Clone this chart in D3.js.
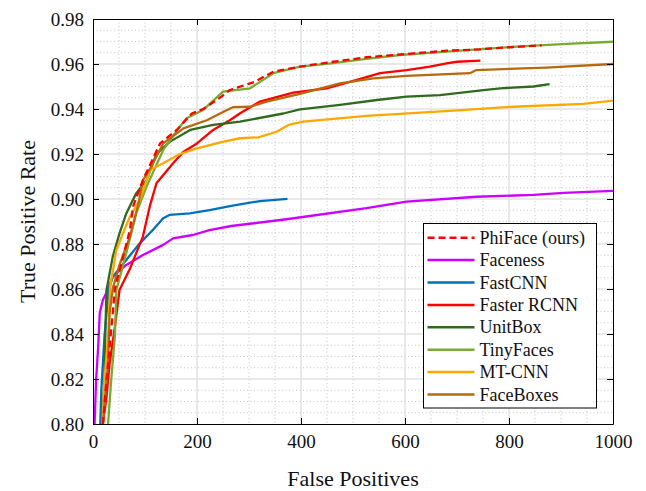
<!DOCTYPE html>
<html>
  <head>
    <meta charset="UTF-8">
    <title>ROC: True Positive Rate vs False Positives</title>
    <style>
      body { margin: 0; background: #fff; }
      svg text { font-family: "Liberation Serif", "Times New Roman", Times, "Nimbus Roman", "DejaVu Serif", serif; fill: #111; }
    </style>
  </head>
  <body>
    <svg></svg>

    <script src="https://d3js.org/d3.v7.min.js"></script>
    <script>

/* DATA */

var methods = ["PhiFace (ours)", "Faceness", "FastCNN", "Faster RCNN", "UnitBox", "TinyFaces", "MT-CNN", "FaceBoxes"];
var colors  = ["#ff0000", "#cc00ff", "#0072bd", "#ff0000", "#2f6a1f", "#77ac30", "#fda800", "#b8690b"];

var phifaceFP  = [19, 26, 32, 38, 42, 58, 71, 77, 96, 129, 161, 190, 212, 247, 263, 310, 347, 398, 462, 526, 616, 680, 744, 776, 821, 863];
var phifaceTPR = [0.800, 0.8196, 0.8344, 0.8493, 0.860, 0.8744, 0.8862, 0.8966, 0.9084, 0.9247, 0.9307, 0.938, 0.940, 0.9455, 0.9484, 0.952, 0.9566, 0.9588, 0.961, 0.963, 0.9647, 0.9659, 0.9665, 0.9671, 0.9677, 0.9683];

var facenessFP  = [3, 6, 10, 13, 19, 26, 38, 64, 96, 135, 154, 192, 224, 266, 372, 526, 603, 738, 847, 905, 1000];
var facenessTPR = [0.800, 0.8196, 0.8344, 0.8493, 0.8551, 0.8585, 0.8655, 0.8707, 0.8751, 0.8796, 0.8825, 0.884, 0.8862, 0.888, 0.891, 0.8959, 0.8988, 0.901, 0.9018, 0.9027, 0.9036];

var fastcnnFP  = [14, 16, 19, 22, 26, 30, 38, 64, 90, 115, 135, 147, 186, 224, 266, 321, 374];
var fastcnnTPR = [0.800, 0.8151, 0.827, 0.8388, 0.8492, 0.8595, 0.8655, 0.8729, 0.8803, 0.8862, 0.8914, 0.8929, 0.8936, 0.8951, 0.8969, 0.8991, 0.9001];

var fasterFP  = [19, 26, 32, 42, 51, 71, 96, 109, 122, 154, 174, 200, 231, 263, 283, 321, 385, 449, 494, 539, 552, 603, 648, 680, 700, 745];
var fasterTPR = [0.800, 0.8121, 0.827, 0.843, 0.8596, 0.869, 0.8833, 0.8966, 0.907, 0.9159, 0.921, 0.9247, 0.9307, 0.935, 0.9381, 0.9433, 0.9473, 0.9492, 0.9521, 0.9551, 0.9559, 0.9573, 0.9588, 0.9603, 0.961, 0.9615];

var unitboxFP  = [17, 22, 24, 26, 38, 51, 64, 83, 103, 122, 148, 187, 231, 283, 366, 398, 475, 546, 603, 667, 751, 783, 847, 878];
var unitboxTPR = [0.800, 0.8196, 0.843, 0.8596, 0.8744, 0.8847, 0.8936, 0.9025, 0.9084, 0.920, 0.9255, 0.9307, 0.9329, 0.9344, 0.938, 0.9398, 0.9418, 0.944, 0.9455, 0.9462, 0.9484, 0.9492, 0.950, 0.9511];

var tinyFP  = [29, 35, 42, 45, 64, 83, 103, 135, 167, 180, 212, 250, 302, 347, 398, 462, 526, 590, 719, 815, 911, 1000];
var tinyTPR = [0.800, 0.8196, 0.8388, 0.8596, 0.8759, 0.8936, 0.9055, 0.9218, 0.9321, 0.9359, 0.9396, 0.9477, 0.9492, 0.9559, 0.9588, 0.9604, 0.9623, 0.964, 0.9662, 0.9677, 0.9689, 0.9699];

var mtcnnFP  = [18, 22, 29, 33, 45, 58, 71, 90, 110, 135, 167, 200, 251, 283, 318, 353, 376, 404, 526, 693, 808, 943, 1000];
var mtcnnTPR = [0.800, 0.8196, 0.8388, 0.861, 0.8773, 0.885, 0.8921, 0.8996, 0.913, 0.9159, 0.920, 0.9225, 0.9255, 0.927, 0.9274, 0.9299, 0.9329, 0.9344, 0.9369, 0.9393, 0.941, 0.9423, 0.9437];

var faceboxesFP  = [19, 29, 32, 38, 51, 71, 87, 96, 110, 135, 174, 219, 251, 269, 302, 334, 398, 475, 539, 603, 725, 737, 872, 1000];
var faceboxesTPR = [0.800, 0.827, 0.8493, 0.8603, 0.8707, 0.8833, 0.8975, 0.9084, 0.9135, 0.9247, 0.9314, 0.935, 0.9388, 0.9408, 0.941, 0.9433, 0.9467, 0.9514, 0.9536, 0.9547, 0.9559, 0.9573, 0.9584, 0.960];

var xTicks = [0, 200, 400, 600, 800, 1000];
var yTicks = [0.80, 0.82, 0.84, 0.86, 0.88, 0.90, 0.92, 0.94, 0.96, 0.98];

var FONT = "'Liberation Serif', 'Times New Roman', Times, 'Nimbus Roman', 'DejaVu Serif', serif";

var config = {
  "width": 646,
  "height": 491,
  "margin": { "top": 19, "right": 33, "bottom": 67, "left": 93 }
};

/* BUILD */

var fps  = [phifaceFP, facenessFP, fastcnnFP, fasterFP, unitboxFP, tinyFP, mtcnnFP, faceboxesFP];
var tprs = [phifaceTPR, facenessTPR, fastcnnTPR, fasterTPR, unitboxTPR, tinyTPR, mtcnnTPR, faceboxesTPR];

var series = methods.map(function(name, i){
  return {
    "name": name,
    "color": colors[i],
    "dashed": i == 0,
    "points": fps[i].map(function(v, j){ return [v, tprs[i][j]]; })
  };
});

var svg = d3.select("svg")
  .attr("width", config.width)
  .attr("height", config.height)
  .attr("font-family", FONT);

var margin = config.margin,
  width = config.width - margin.left - margin.right,
  height = config.height - margin.top - margin.bottom;

var g = svg.append("g")
  .attr("transform", `translate(${margin.left},${margin.top})`);

var x = d3.scaleLinear().domain([0, 1000]).range([0, width]);
var y = d3.scaleLinear().domain([0.80, 0.98]).range([height, 0]);

// minor dotted grid
var minorX = d3.range(50, 1000, 50).filter(function(v){ return v % 200 != 0; });
var minorY = d3.range(0, 37).map(function(i){ return 0.80 + i*0.005; })
  .filter(function(v, i){ return i % 4 != 0; });

g.append("g").selectAll("line")
  .data(minorX)
  .enter().append("line")
    .attr("x1", function(d){ return x(d); })
    .attr("x2", function(d){ return x(d); })
    .attr("y1", 0).attr("y2", height)
    .attr("stroke", "#b8b8b8")
    .attr("stroke-width", 0.8)
    .attr("stroke-dasharray", "1,2.5");

g.append("g").selectAll("line")
  .data(minorY)
  .enter().append("line")
    .attr("y1", function(d){ return y(d); })
    .attr("y2", function(d){ return y(d); })
    .attr("x1", 0).attr("x2", width)
    .attr("stroke", "#b8b8b8")
    .attr("stroke-width", 0.8)
    .attr("stroke-dasharray", "1,2.5");

// major grid
g.append("g").selectAll("line")
  .data(xTicks.slice(1, -1))
  .enter().append("line")
    .attr("x1", function(d){ return x(d); })
    .attr("x2", function(d){ return x(d); })
    .attr("y1", 0).attr("y2", height)
    .attr("stroke", "#e2e2e2")
    .attr("stroke-width", 1.5);

g.append("g").selectAll("line")
  .data(yTicks.slice(1, -1))
  .enter().append("line")
    .attr("y1", function(d){ return y(d); })
    .attr("y2", function(d){ return y(d); })
    .attr("x1", 0).attr("x2", width)
    .attr("stroke", "#e2e2e2")
    .attr("stroke-width", 1.5);

// curves
svg.append("defs").append("clipPath")
  .attr("id", "plot")
  .append("rect")
    .attr("width", width)
    .attr("height", height);

var line = d3.line()
  .x(function(d){ return x(d[0]); })
  .y(function(d){ return y(d[1]); });

// draw PhiFace last so it sits on top
var drawOrder = series.slice(1).concat(series[0]);

g.append("g")
  .attr("clip-path", "url(#plot)")
  .selectAll("path")
  .data(drawOrder)
  .enter().append("path")
    .attr("d", function(d){ return line(d.points); })
    .attr("fill", "none")
    .attr("stroke", function(d){ return d.color; })
    .attr("stroke-width", 2.3)
    .attr("stroke-linejoin", "round")
    .attr("stroke-dasharray", function(d){ return d.dashed ? "7,4" : null; });

// axes (ticks pointing inward on all sides)
function styleAxis(sel){
  sel.attr("font-family", FONT).attr("font-size", 19);
  sel.selectAll("path").attr("stroke", "#000").attr("stroke-width", 1);
  sel.selectAll("line").attr("stroke", "#000").attr("stroke-width", 1);
  sel.selectAll("text").attr("fill", "#111");
}

g.append("g")
  .attr("transform", `translate(0,${height})`)
  .call(d3.axisBottom(x).tickValues(xTicks).tickFormat(d3.format("d")).tickSize(-6).tickSizeOuter(0).tickPadding(11))
  .call(styleAxis);

g.append("g")
  .call(d3.axisLeft(y).tickValues(yTicks).tickFormat(d3.format(".2f")).tickSize(-6).tickSizeOuter(0).tickPadding(9))
  .call(styleAxis);

g.append("g")
  .call(d3.axisTop(x).tickValues(xTicks).tickFormat("").tickSize(-6).tickSizeOuter(0))
  .call(styleAxis);

g.append("g")
  .attr("transform", `translate(${width},0)`)
  .call(d3.axisRight(y).tickValues(yTicks).tickFormat("").tickSize(-6).tickSizeOuter(0))
  .call(styleAxis);

// axis titles
svg.append("text")
  .attr("x", margin.left + width/2)
  .attr("y", 486)
  .attr("text-anchor", "middle")
  .attr("font-size", 22)
  .text("False Positives");

svg.append("text")
  .attr("transform", `translate(35,${margin.top + height/2}) rotate(-90)`)
  .attr("text-anchor", "middle")
  .attr("font-size", 22)
  .text("True Positive Rate");

// legend
var legend = svg.append("g")
  .attr("transform", "translate(423.5,223.5)");

legend.append("rect")
  .attr("width", 173)
  .attr("height", 184.5)
  .attr("fill", "#fff")
  .attr("stroke", "#000")
  .attr("stroke-width", 1);

var item = legend.selectAll(".item")
  .data(series)
  .enter().append("g")
    .attr("class", "item")
    .attr("transform", function(d, i){ return `translate(0,${14.2 + i*22.4})`; });

item.append("line")
  .attr("x1", 4).attr("x2", 51)
  .attr("stroke", function(d){ return d.color; })
  .attr("stroke-width", 2.5)
  .attr("stroke-dasharray", function(d){ return d.dashed ? "7,4" : null; });

item.append("text")
  .attr("x", 56)
  .attr("dy", "0.34em")
  .attr("font-size", 18)
  .text(function(d){ return d.name; });

    </script>
  </body>
</html>
